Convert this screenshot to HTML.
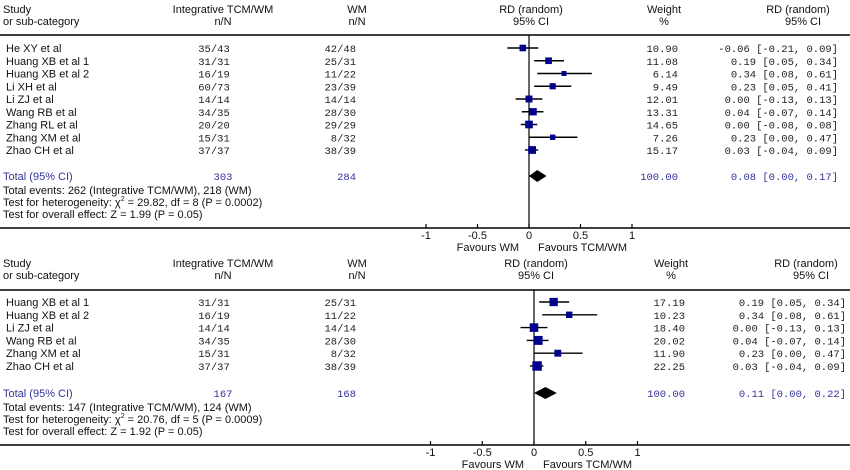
<!DOCTYPE html>
<html><head><meta charset="utf-8"><style>
body{margin:0;background:#fff;}
svg{display:block;font-family:"Liberation Sans",sans-serif;}
.t{font-size:11px;fill:#111;}
.m{font-family:"Liberation Mono",monospace;font-size:10.5px;fill:#222;}
.b{fill:#33339a;}
</style></head><body>
<svg id="c" width="850" height="470"></svg>
<script>
const studies1=["He XY et al","Huang XB et al 1","Huang XB et al 2","Li XH  et al","Li ZJ et al","Wang RB et al","Zhang RL et al","Zhang XM et al","Zhao CH et al"];
const tcm1=["35/43","31/31","16/19","60/73","14/14","34/35","20/20","15/31","37/37"];
const wm1=["42/48","25/31","11/22","23/39","14/14","28/30","29/29","8/32","38/39"];
const weight1=[10.90,11.08,6.14,9.49,12.01,13.31,14.65,7.26,15.17];
const rd1=[-0.06,0.19,0.34,0.23,0.00,0.04,0.00,0.23,0.03];
const lo1=[-0.21,0.05,0.08,0.05,-0.13,-0.07,-0.08,0.00,-0.04];
const hi1=[0.09,0.34,0.61,0.41,0.13,0.14,0.08,0.47,0.09];
const total1={n1:"303",n2:"284",rd:0.08,lo:0.00,hi:0.17,events:"Total events: 262 (Integrative TCM/WM), 218 (WM)",het:["Test for heterogeneity: ","χ","2"," = 29.82, df = 8 (P = 0.0002)"],z:"Test for overall effect: Z = 1.99 (P = 0.05)"};
const studies2=["Huang XB et al 1","Huang XB et al 2","Li ZJ et al","Wang RB et al","Zhang XM et al","Zhao CH et al"];
const tcm2=["31/31","16/19","14/14","34/35","15/31","37/37"];
const wm2=["25/31","11/22","14/14","28/30","8/32","38/39"];
const weight2=[17.19,10.23,18.40,20.02,11.90,22.25];
const rd2=[0.19,0.34,0.00,0.04,0.23,0.03];
const lo2=[0.05,0.08,-0.13,-0.07,0.00,-0.04];
const hi2=[0.34,0.61,0.13,0.14,0.47,0.09];
const total2={n1:"167",n2:"168",rd:0.11,lo:0.00,hi:0.22,events:"Total events: 147 (Integrative TCM/WM), 124 (WM)",het:["Test for heterogeneity: ","χ","2"," = 20.76, df = 5 (P = 0.0009)"],z:"Test for overall effect: Z = 1.92 (P = 0.05)"};
const ticks=[-1,-0.5,0,0.5,1];
const tickLabels=["-1","-0.5","0","0.5","1"];

const svg=document.getElementById('c');
const NS="http://www.w3.org/2000/svg";
function el(tag,a,txt,parent){const e=document.createElementNS(NS,tag);for(const k in a)e.setAttribute(k,a[k]);if(txt!=null)e.textContent=txt;(parent||svg).appendChild(e);return e;}
const f2=v=>(v<0?"-":"")+Math.abs(v).toFixed(2);

function panel(P,studies,tcm,wm,weight,rd,lo,hi,tot){
  const g=el('g',{});
  
  
  const X=v=>P.x0+v*P.sc;
  const hdr=[["Study",3,"start"],["Integrative TCM/WM",223,"middle"],["WM",357,"middle"],["RD (random)",P.x0+2,"middle"],["Weight",P.wx-14,"middle"],["RD (random)",P.rx-40,"middle"]];
  const hdr2=[["or sub-category",3,"start"],["n/N",223,"middle"],["n/N",357,"middle"],["95% CI",P.x0+2,"middle"],["%",P.wx-14,"middle"],["95% CI",P.rx-35,"middle"]];
  hdr.forEach(h=>{const t=el('text',{x:h[1],y:P.hy,class:'t','text-anchor':h[2]},h[0],g);});
  hdr2.forEach(h=>{const t=el('text',{x:h[1],y:P.hy+12,class:'t','text-anchor':h[2]},h[0],g);});
  el('line',{x1:0,x2:850,y1:P.rule,y2:P.rule,stroke:'#000','stroke-width':1.5},null,g);
  const vl=el('line',{x1:X(0),x2:X(0),y1:P.rule,y2:P.axis,stroke:'#000','stroke-width':1.2},null,g);
  
  studies.forEach((s,i)=>{
    const y=P.r0+i*P.step;
    const t=el('text',{x:6,y:y+4,class:'t'},s,g);
    el('text',{x:214,y:y+4,class:'m','text-anchor':'middle'},tcm[i],g);
    el('text',{x:356,y:y+4,class:'m','text-anchor':'end'},wm[i],g);
    el('text',{x:P.wx,y:y+4,class:'m','text-anchor':'end'},weight[i].toFixed(2),g);
    el('text',{x:P.rx,y:y+4,class:'m','text-anchor':'end'},f2(rd[i])+" ["+f2(lo[i])+", "+f2(hi[i])+"]",g);
    const ln=el('line',{x1:X(lo[i]),x2:X(hi[i]),y1:y,y2:y,stroke:'#000','stroke-width':1.4},null,g);
    
    const sz=2*Math.sqrt(weight[i]);
    const r=el('rect',{x:X(rd[i])-sz/2,y:y-sz/2,width:sz,height:sz,fill:'#00008b'},null,g);
    
  });
  const ty=P.ty;
  el('text',{x:3,y:ty+4,class:'t b'},"Total (95% CI)",g);
  el('text',{x:223,y:ty+4,class:'m b','text-anchor':'middle'},tot.n1,g);
  el('text',{x:356,y:ty+4,class:'m b','text-anchor':'end'},tot.n2,g);
  el('text',{x:P.wx,y:ty+4,class:'m b','text-anchor':'end'},"100.00",g);
  el('text',{x:P.rx,y:ty+4,class:'m b','text-anchor':'end'},f2(tot.rd)+" ["+f2(tot.lo)+", "+f2(tot.hi)+"]",g);
  const d=el('polygon',{points:`${X(tot.lo)},${ty} ${X(tot.rd)},${ty-6} ${X(tot.hi)},${ty} ${X(tot.rd)},${ty+6}`,fill:'#000'},null,g);
  
  el('text',{x:3,y:ty+18,class:'t'},tot.events,g);
  const h=el('text',{x:3,y:ty+30,class:'t'},null,g);
  el('tspan',{},tot.het[0],h);el('tspan',{},tot.het[1],h);el('tspan',{'font-size':'7px',dy:'-5'},tot.het[2],h);el('tspan',{dy:'5'},tot.het[3],h);
  el('text',{x:3,y:ty+42,class:'t'},tot.z,g);
  const ax=el('line',{x1:0,x2:850,y1:P.axis,y2:P.axis,stroke:'#000','stroke-width':1.5},null,g);
  
  ticks.forEach((v,i)=>{
    el('line',{x1:X(v),x2:X(v),y1:P.axis-4,y2:P.axis,stroke:'#000','stroke-width':1.2},null,g);
    const t=el('text',{x:X(v),y:P.axis+11,class:'t','text-anchor':'middle'},tickLabels[i],g);
    
  });
  el('text',{x:X(0)-10,y:P.axis+23,class:'t','text-anchor':'end'},"Favours WM",g);
  el('text',{x:X(0)+9,y:P.axis+23,class:'t','text-anchor':'start'},"Favours TCM/WM",g);
}
panel({name:'forest-panel-all',x0:529,sc:103,hy:13,rule:35,r0:48,step:12.75,ty:176,axis:228,wx:678,rx:838},studies1,tcm1,wm1,weight1,rd1,lo1,hi1,total1);
panel({name:'forest-panel-subset',x0:534,sc:103.5,hy:267,rule:290,r0:302,step:12.8,ty:393,axis:445,wx:685,rx:846},studies2,tcm2,wm2,weight2,rd2,lo2,hi2,total2);
</script>
</body></html>
